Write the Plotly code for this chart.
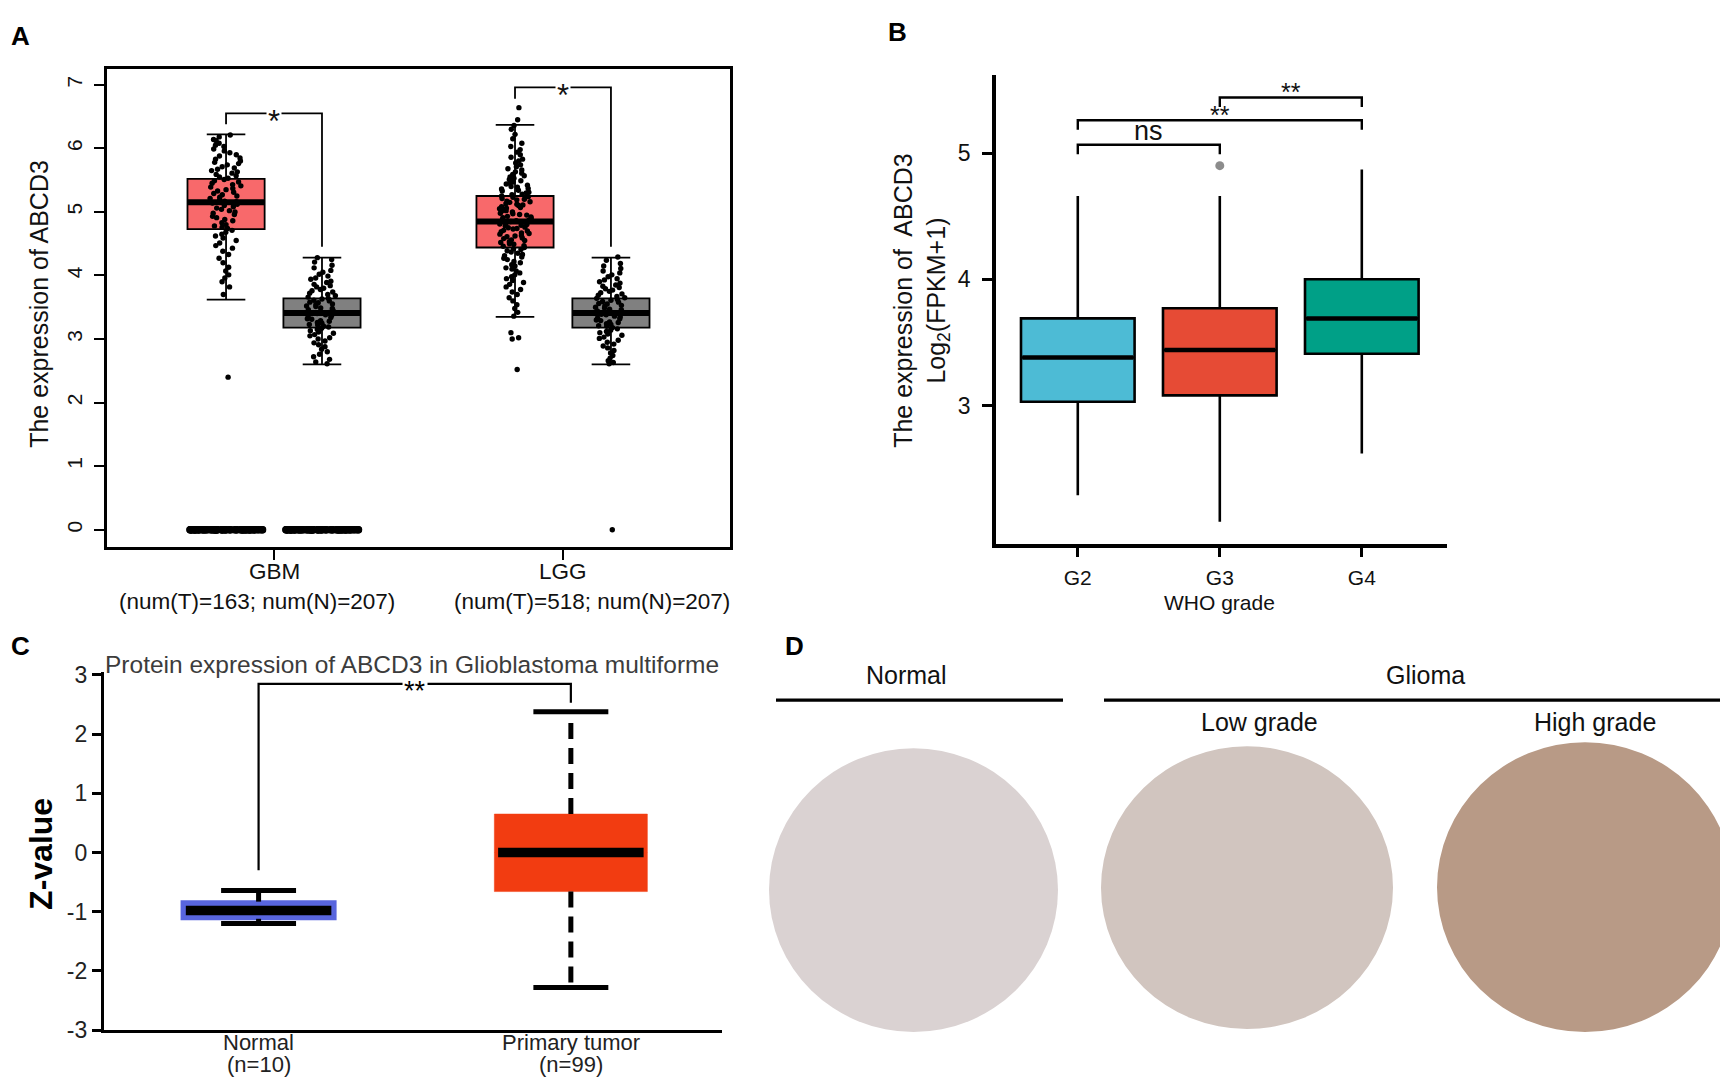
import plotly.graph_objects as go

W, H = 1728, 1084
FONT = "Liberation Sans, Arial, Helvetica, sans-serif"

# ---------------- panel A : ABCD3 expression, tumour vs normal ----------------
A_CATS = ["GBM", "LGG"]
A_NUM_T = [163, 518]
A_NUM_N = [207, 207]
A_T_Q1 = [4.73, 4.44]
A_T_MED = [5.15, 4.85]
A_T_Q3 = [5.52, 5.25]
A_T_LO = [3.62, 3.35]
A_T_HI = [6.22, 6.37]
A_N_Q1 = [3.18, 3.18]
A_N_MED = [3.41, 3.41]
A_N_Q3 = [3.64, 3.64]
A_N_LO = [2.60, 2.60]
A_N_HI = [4.28, 4.28]
A_SIG = ["*", "*"]
A_TICKS = [0, 1, 2, 3, 4, 5, 6, 7]

A_GBM_T_PTS = [
    6.21, 6.18, 6.14, 6.12, 6.08, 6.05, 6.03, 5.99, 5.96, 5.93, 5.90, 5.88, 5.85, 5.83,
    5.80, 5.78, 5.76, 5.74, 5.71, 5.69, 5.67, 5.65, 5.63, 5.61, 5.59, 5.57, 5.55, 5.53,
    5.51, 5.49, 5.47, 5.45, 5.43, 5.41, 5.39, 5.37, 5.35, 5.33, 5.31, 5.29, 5.27, 5.25,
    5.23, 5.21, 5.19, 5.17, 5.16, 5.14, 5.12, 5.10, 5.08, 5.06, 5.04, 5.02, 5.00, 4.98,
    4.96, 4.93, 4.91, 4.88, 4.86, 4.83, 4.80, 4.78, 4.76, 4.74, 4.71, 4.68, 4.65, 4.62,
    4.59, 4.55, 4.51, 4.47, 4.43, 4.38, 4.33, 4.27, 4.20, 4.13, 4.07, 4.01, 3.96, 3.90,
    3.82, 3.70, 2.40,
]
A_GBM_N_PTS = [
    4.28, 4.25, 4.21, 4.16, 4.12, 4.08, 4.05, 4.02, 3.99, 3.96, 3.94, 3.91, 3.89, 3.86,
    3.84, 3.82, 3.80, 3.78, 3.76, 3.74, 3.72, 3.70, 3.68, 3.66, 3.64, 3.63, 3.61, 3.60,
    3.58, 3.57, 3.55, 3.54, 3.52, 3.51, 3.49, 3.48, 3.46, 3.45, 3.43, 3.42, 3.41, 3.40,
    3.38, 3.37, 3.35, 3.34, 3.32, 3.31, 3.29, 3.28, 3.26, 3.25, 3.23, 3.22, 3.20, 3.19,
    3.17, 3.15, 3.13, 3.11, 3.09, 3.07, 3.05, 3.02, 3.00, 2.97, 2.94, 2.91, 2.88, 2.84,
    2.80, 2.76, 2.72, 2.68, 2.64, 2.61,
]
A_LGG_T_PTS = [
    6.64, 6.45, 6.36, 6.30, 6.22, 6.15, 6.08, 6.03, 5.98, 5.94, 5.90, 5.86, 5.83, 5.80,
    5.77, 5.74, 5.71, 5.68, 5.66, 5.63, 5.61, 5.59, 5.57, 5.55, 5.53, 5.51, 5.49, 5.47,
    5.45, 5.44, 5.42, 5.40, 5.39, 5.37, 5.36, 5.34, 5.33, 5.31, 5.30, 5.28, 5.27, 5.25,
    5.24, 5.23, 5.21, 5.20, 5.19, 5.17, 5.16, 5.15, 5.13, 5.12, 5.11, 5.10, 5.08, 5.07,
    5.06, 5.05, 5.03, 5.02, 5.01, 5.00, 4.98, 4.97, 4.96, 4.95, 4.93, 4.92, 4.91, 4.90,
    4.88, 4.87, 4.86, 4.85, 4.84, 4.83, 4.81, 4.80, 4.79, 4.78, 4.76, 4.75, 4.74, 4.73,
    4.71, 4.70, 4.69, 4.67, 4.66, 4.65, 4.63, 4.62, 4.61, 4.59, 4.58, 4.56, 4.55, 4.53,
    4.52, 4.50, 4.49, 4.47, 4.46, 4.44, 4.42, 4.41, 4.39, 4.37, 4.35, 4.33, 4.31, 4.29,
    4.27, 4.25, 4.22, 4.20, 4.17, 4.15, 4.12, 4.10, 4.07, 4.04, 4.01, 3.98, 3.95, 3.92,
    3.89, 3.86, 3.82, 3.78, 3.74, 3.70, 3.65, 3.60, 3.54, 3.48, 3.42, 3.36, 3.10, 3.02,
    3.00, 2.52,
]
A_LGG_N_PTS = [
    4.29, 4.24, 4.19, 4.15, 4.11, 4.07, 4.04, 4.01, 3.98, 3.95, 3.93, 3.90, 3.88, 3.85,
    3.83, 3.81, 3.79, 3.77, 3.75, 3.73, 3.71, 3.69, 3.67, 3.65, 3.64, 3.62, 3.61, 3.59,
    3.58, 3.56, 3.55, 3.53, 3.52, 3.50, 3.49, 3.47, 3.46, 3.44, 3.43, 3.42, 3.41, 3.39,
    3.38, 3.36, 3.35, 3.33, 3.32, 3.30, 3.29, 3.27, 3.26, 3.24, 3.23, 3.21, 3.20, 3.18,
    3.16, 3.14, 3.12, 3.10, 3.08, 3.06, 3.03, 3.01, 2.98, 2.95, 2.92, 2.89, 2.86, 2.82,
    2.78, 2.74, 2.70, 2.66, 2.63, 2.61, 0.0,
]
# samples with zero expression (the solid band at 0)
A_GBM_T_ZERO = [
    0.0, 0.0, 0.0, 0.0, 0.0, 0.0, 0.0, 0.0, 0.0, 0.0, 0.0, 0.0, 0.0, 0.0, 0.0, 0.0,
    0.0, 0.0, 0.0, 0.0, 0.0, 0.0, 0.0, 0.0, 0.0, 0.0, 0.0, 0.0, 0.0, 0.0, 0.0, 0.0,
    0.0, 0.0, 0.0, 0.0, 0.0, 0.0, 0.0, 0.0, 0.0, 0.0, 0.0, 0.0, 0.0, 0.0, 0.0, 0.0,
    0.0, 0.0, 0.0, 0.0, 0.0, 0.0, 0.0, 0.0, 0.0, 0.0, 0.0, 0.0, 0.0, 0.0, 0.0, 0.0,
    0.0, 0.0, 0.0, 0.0, 0.0, 0.0, 0.0, 0.0, 0.0, 0.0, 0.0, 0.0, 0.0, 0.0, 0.0, 0.0,
]
A_GBM_N_ZERO = [
    0.0, 0.0, 0.0, 0.0, 0.0, 0.0, 0.0, 0.0, 0.0, 0.0, 0.0, 0.0, 0.0, 0.0, 0.0, 0.0,
    0.0, 0.0, 0.0, 0.0, 0.0, 0.0, 0.0, 0.0, 0.0, 0.0, 0.0, 0.0, 0.0, 0.0, 0.0, 0.0,
    0.0, 0.0, 0.0, 0.0, 0.0, 0.0, 0.0, 0.0, 0.0, 0.0, 0.0, 0.0, 0.0, 0.0, 0.0, 0.0,
    0.0, 0.0, 0.0, 0.0, 0.0, 0.0, 0.0, 0.0, 0.0, 0.0, 0.0, 0.0, 0.0, 0.0, 0.0, 0.0,
    0.0, 0.0, 0.0, 0.0, 0.0, 0.0, 0.0, 0.0, 0.0, 0.0, 0.0, 0.0, 0.0, 0.0, 0.0, 0.0,
]

# ---------------- panel B : WHO grade ----------------
B_GRADES = ["G2", "G3", "G4"]
B_Q1 = [3.03, 3.08, 3.41]
B_MED = [3.38, 3.44, 3.69]
B_Q3 = [3.69, 3.77, 4.00]
B_LO = [2.29, 2.08, 2.62]
B_HI = [4.66, 4.66, 4.87]
B_OUT_GRADE = ["G3"]
B_OUT_Y = [4.90]
B_PAIRS = [("G2", "G3"), ("G2", "G4"), ("G3", "G4")]
B_PAIR_SIG = ["ns", "**", "**"]
B_TICKS = [3, 4, 5]

# ---------------- panel C : protein (CPTAC) ----------------
C_GROUPS = ["Normal", "Primary tumor"]
C_N = [10, 99]
C_Q1 = [-1.12, -0.66]
C_MED = [-0.98, 0.00]
C_Q3 = [-0.83, 0.65]
C_LO = [-1.20, -2.28]
C_HI = [-0.64, 2.38]
C_SIG = "**"
C_TICKS = [-3, -2, -1, 0, 1, 2, 3]

# ---------------- panel D : IHC labels ----------------
D_GROUPS = ["Normal", "Glioma"]
D_GRADES = ["Low grade", "High grade"]


def fx(px):
    return px / W


def fy(py):
    return 1 - py / H


def seg(centers, half, vals):
    xs, ys = [], []
    for c, v in zip(centers, vals):
        xs += [c - half, c + half, None]
        ys += [v, v, None]
    return xs, ys


def note(text, x, y, size, xref="paper", yref="paper", **kw):
    d = dict(x=x, y=y, xref=xref, yref=yref, text=text, showarrow=False,
             xanchor="center", yanchor="middle", font=dict(size=size, color="#111"))
    d.update(kw)
    return d


fig = go.Figure()
shapes, annos = [], []

# ---- A
OFF_A, BW_A = 0.166, 0.267
RED_A, GREY_A = "#F8696B", "#808080"
t_pos = [i - OFF_A for i in range(len(A_CATS))]
n_pos = [i + OFF_A for i in range(len(A_CATS))]
for pos, q1, md, q3, lo, hi, col in [
    (t_pos, A_T_Q1, A_T_MED, A_T_Q3, A_T_LO, A_T_HI, RED_A),
    (n_pos, A_N_Q1, A_N_MED, A_N_Q3, A_N_LO, A_N_HI, GREY_A),
]:
    fig.add_trace(go.Box(x=pos, q1=q1, median=md, q3=q3, lowerfence=lo, upperfence=hi,
                         width=BW_A, whiskerwidth=0.5, fillcolor=col, boxpoints=False,
                         line=dict(color="black", width=1.8), xaxis="x", yaxis="y"))
    mx, my = seg(pos, BW_A / 2, md)
    fig.add_trace(go.Scatter(x=mx, y=my, mode="lines", line=dict(color="black", width=6),
                             xaxis="x", yaxis="y", hoverinfo="skip"))

pt_sets = [
    (t_pos[0], A_GBM_T_PTS, 0.42, 5.4), (n_pos[0], A_GBM_N_PTS, 0.42, 5.4),
    (t_pos[1], A_LGG_T_PTS, 0.42, 5.4), (n_pos[1], A_LGG_N_PTS, 0.42, 5.4),
    (t_pos[0], A_GBM_T_ZERO, 0.95, 7.5), (n_pos[0], A_GBM_N_ZERO, 0.95, 7.5),
]
for pos, vals, jit, size in pt_sets:
    fig.add_trace(go.Box(x0=pos, y=vals, width=BW_A, boxpoints="all", jitter=jit, pointpos=0,
                         fillcolor="rgba(0,0,0,0)", line=dict(width=0),
                         marker=dict(color="black", size=size), xaxis="x", yaxis="y"))

A_BR_TOP = [6.55, 6.96]
A_BR_LEFT = [6.38, 6.78]
A_BR_RIGHT = [4.45, 4.45]
for i, sig in enumerate(A_SIG):
    shapes.append(dict(type="path", xref="x", yref="y",
                       path=f"M {t_pos[i]},{A_BR_LEFT[i]} V {A_BR_TOP[i]} H {n_pos[i]} V {A_BR_RIGHT[i]}",
                       line=dict(color="black", width=1.8)))
    annos.append(note(sig, i, A_BR_TOP[i], 31, "x", "y", bgcolor="white", borderpad=1, yshift=-8))

# category label + sample-size line (the second line sits slightly outward in the original)
A_SUB_SHIFT = [-0.06, 0.10]
for i, (c, t, n) in enumerate(zip(A_CATS, A_NUM_T, A_NUM_N)):
    annos.append(note(c, i, fy(566), 22.5, "x", "paper"))
    annos.append(note(f"(num(T)={t}; num(N)={n})", i + A_SUB_SHIFT[i], fy(596), 22.5, "x", "paper"))

# ---- B
B_COLORS = ["#4DBBD5", "#E64B35", "#00A087"]
BW_B = 0.8
for i, g in enumerate(B_GRADES):
    fig.add_trace(go.Box(x=[i], q1=[B_Q1[i]], median=[B_MED[i]], q3=[B_Q3[i]],
                         lowerfence=[B_LO[i]], upperfence=[B_HI[i]], width=BW_B, whiskerwidth=0,
                         fillcolor=B_COLORS[i], boxpoints=False,
                         line=dict(color="black", width=2.6), xaxis="x2", yaxis="y2"))
mx, my = seg(range(len(B_GRADES)), BW_B / 2 - 0.01, B_MED)
fig.add_trace(go.Scatter(x=mx, y=my, mode="lines", line=dict(color="black", width=4.5),
                         xaxis="x2", yaxis="y2", hoverinfo="skip"))
fig.add_trace(go.Scatter(x=[B_GRADES.index(g) for g in B_OUT_GRADE], y=B_OUT_Y, mode="markers",
                         marker=dict(color="#8c8c8c", size=9), xaxis="x2", yaxis="y2"))

B_BR_Y = [5.066, 5.26, 5.44]
for (a, b), sig, yb in zip(B_PAIRS, B_PAIR_SIG, B_BR_Y):
    xa, xb = B_GRADES.index(a), B_GRADES.index(b)
    shapes.append(dict(type="path", xref="x2", yref="y2",
                       path=f"M {xa},{yb - 0.075} V {yb} H {xb} V {yb - 0.075}",
                       line=dict(color="black", width=2.4)))
    if sig == "ns":
        annos.append(note(sig, (xa + xb) / 2, yb, 27, "x2", "y2", yanchor="bottom", yshift=-3))
    else:
        annos.append(note(sig, (xa + xb) / 2, yb, 25, "x2", "y2", yanchor="bottom", yshift=-11))

# ---- C
C_FILL = ["#5865DE", "#F23C11"]
C_EDGE = [("#5865DE", 3), ("#F23C11", 0.5)]
C_DASH = ["solid", "16px,9px"]
BW_C = 0.49
CAP_C = 0.12
cx = list(range(len(C_GROUPS)))
for i in cx:
    fig.add_trace(go.Scatter(x=[i, i, None, i, i], y=[C_Q3[i], C_HI[i], None, C_Q1[i], C_LO[i]],
                             mode="lines", line=dict(color="black", width=5, dash=C_DASH[i]),
                             xaxis="x3", yaxis="y3", hoverinfo="skip"))
for i in cx:
    fig.add_trace(go.Box(x=[i], q1=[C_Q1[i]], median=[C_MED[i]], q3=[C_Q3[i]],
                         lowerfence=[C_Q1[i]], upperfence=[C_Q3[i]], width=BW_C, whiskerwidth=0,
                         fillcolor=C_FILL[i], boxpoints=False,
                         line=dict(color=C_EDGE[i][0], width=C_EDGE[i][1]), xaxis="x3", yaxis="y3"))
capx, capy = seg(cx + cx, CAP_C, C_HI + C_LO)
fig.add_trace(go.Scatter(x=capx, y=capy, mode="lines", line=dict(color="black", width=5),
                         xaxis="x3", yaxis="y3", hoverinfo="skip"))
mx, my = seg(cx, BW_C / 2 - 0.012, C_MED)
fig.add_trace(go.Scatter(x=mx, y=my, mode="lines", line=dict(color="black", width=9.5),
                         xaxis="x3", yaxis="y3", hoverinfo="skip"))
shapes.append(dict(type="path", xref="x3", yref="y3",
                   path="M 0,-0.30 V 2.85 H 1 V 2.53", line=dict(color="black", width=2.2)))
annos.append(note(C_SIG, 0.5, 2.85, 27, "x3", "y3", bgcolor="white", borderpad=1, yshift=-7,
                  font=dict(size=27, color="black")))
for i, (g, n) in enumerate(zip(C_GROUPS, C_N)):
    annos.append(note(g, i, fy(1047), 22, "x3", "paper", font=dict(size=22, color="#222")))
    annos.append(note(f"(n={n})", i, fy(1069), 22, "x3", "paper", font=dict(size=22, color="#222")))
annos.append(note("Protein expression of ABCD3 in Glioblastoma multiforme", fx(404), fy(661), 24.5,
                  font=dict(size=24.5, color="#3c3c3c")))

# ---- D (tissue cores shown as flat discs)
D_DISC = [
    (761, 746, 1050, 1036, "#DAD2D2"),
    (1093, 744, 1385, 1033, "#D1C5BF"),
    (1429, 740, 1725, 1036, "#B89A86"),
]
for x0, y0, x1, y1, col in D_DISC:
    shapes.append(dict(type="circle", xref="paper", yref="paper", x0=fx(x0), x1=fx(x1),
                       y0=fy(y1), y1=fy(y0), fillcolor=col, line=dict(width=0), layer="below"))
for (x0, x1) in [(768, 1055), (1096, 1728)]:
    shapes.append(dict(type="line", xref="paper", yref="paper", x0=fx(x0), x1=fx(x1),
                       y0=fy(697), y1=fy(697), line=dict(color="black", width=3.3)))
for txt, x in zip(D_GROUPS, [898, 1417]):
    annos.append(note(txt, fx(x), fy(671), 25))
for txt, x in zip(D_GRADES, [1251, 1587]):
    annos.append(note(txt, fx(x), fy(719), 25))

# ---- axis titles and panel letters
annos.append(note("The expression of ABCD3", fx(31), fy(292), 25, textangle=-90))
annos.append(note("The expression of\u00a0 ABCD3<br>Log<sub>2</sub>(FPKM+1)", fx(914), fy(289), 25,
                  textangle=-90))
annos.append(note("WHO grade", 1, fy(597), 21, "x2", "paper"))
annos.append(note("<b>Z-value</b>", fx(33), fy(854), 32, textangle=-90,
                  font=dict(size=32, color="black")))
for letter, x, y in [("A", 1, 1), ("B", 878, -3), ("C", 1, 624), ("D", 775, 624)]:
    annos.append(note(f"<b>{letter}</b>", fx(x), fy(y), 26, xanchor="left", yanchor="top",
                      font=dict(size=26, color="black")))

ax_common = dict(showgrid=False, zeroline=False, linecolor="black", tickcolor="black")
fig.update_layout(
    width=W, height=H, margin=dict(l=0, r=0, t=0, b=0),
    paper_bgcolor="white", plot_bgcolor="white",
    font=dict(family=FONT, color="#111"),
    showlegend=False, boxmode="overlay",
    xaxis=dict(domain=[fx(99), fx(722)], range=[-0.578, 1.578], anchor="y",
               tickvals=list(range(len(A_CATS))), showticklabels=False,
               showline=True, mirror=True, linewidth=3, ticks="outside", ticklen=10, tickwidth=2.4,
               **ax_common),
    yaxis=dict(domain=[fy(540), fy(52)], range=[-0.265, 7.25], anchor="x",
               tickvals=A_TICKS, tickangle=-90, ticklabelstandoff=4,
               showline=True, mirror=True, linewidth=3, ticks="outside", ticklen=10, tickwidth=2.4,
               tickfont=dict(size=21), **ax_common),
    xaxis2=dict(domain=[fx(988), fx(1439)], range=[-0.576, 2.6], anchor="y2",
                tickvals=list(range(len(B_GRADES))), ticktext=B_GRADES, ticklabelstandoff=2,
                showline=True, linewidth=3.6, ticks="outside", ticklen=10, tickwidth=2.6,
                tickfont=dict(size=21), **ax_common),
    yaxis2=dict(domain=[fy(537), fy(58)], range=[1.906, 5.62], anchor="x2",
                tickvals=B_TICKS, ticklabelstandoff=7,
                showline=True, linewidth=3.6, ticks="outside", ticklen=10, tickwidth=2.6,
                tickfont=dict(size=23), **ax_common),
    xaxis3=dict(domain=[fx(96), fx(714)], range=[-0.495, 1.484], anchor="y3",
                showticklabels=False, ticks="",
                showline=True, linewidth=3.4, **ax_common),
    yaxis3=dict(domain=[fy(1034), fy(668)], range=[-3, 3.053], anchor="x3",
                tickvals=C_TICKS, ticktext=[str(v) for v in C_TICKS],
                showline=True, linewidth=3.4, ticks="outside", ticklen=9, tickwidth=3.4,
                tickfont=dict(size=23, color="#222"), **ax_common),
    shapes=shapes, annotations=annos,
)

fig.write_html("out.html")
